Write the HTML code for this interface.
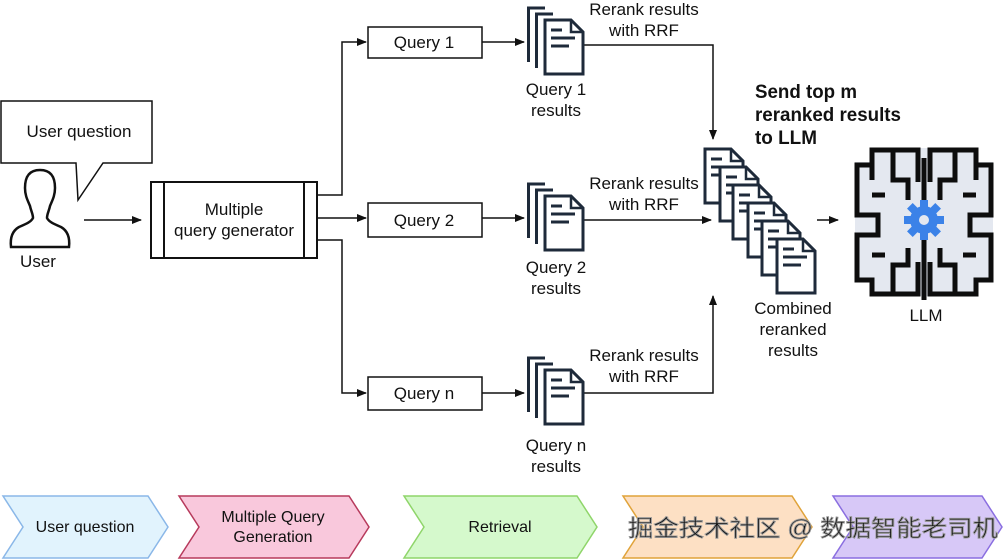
<!DOCTYPE html>
<html><head><meta charset="utf-8"><style>
html,body{margin:0;padding:0;background:#fff}
svg{display:block}
text{font-family:"Liberation Sans",Arial,sans-serif;fill:#111}
</style></head><body>
<svg width="1008" height="560" viewBox="0 0 1008 560" xmlns="http://www.w3.org/2000/svg">
<defs>
<marker id="ar" markerWidth="10" markerHeight="8" refX="9" refY="4" orient="auto" markerUnits="userSpaceOnUse">
<path d="M0,0 L10,4 L0,8 Z" fill="#111"/></marker>
<g id="page">
<path d="M0,0 H26 L38,12 V54 H0 Z" fill="#fff" stroke="#1e2a3a" stroke-width="3" stroke-linejoin="miter"/>
<path d="M26,0 V12 H38" fill="none" stroke="#1e2a3a" stroke-width="2.5"/>
<path d="M6,10 H17 M6,18 H30 M6,26 H24" stroke="#1e2a3a" stroke-width="3"/>
</g>
<g id="stack">
<path d="M1.5,54 V0 H18" fill="none" stroke="#1e2a3a" stroke-width="3"/>
<path d="M9.5,60 V6 H26" fill="none" stroke="#1e2a3a" stroke-width="3"/>
<use href="#page" x="18" y="12"/>
</g>
</defs>

<!-- bubble -->
<path d="M1,101 H152 V163 H103 L78,200 L76,163 H1 Z" fill="#fff" stroke="#111" stroke-width="1.5"/>
<text x="79" y="137" font-size="17" text-anchor="middle">User question</text>
<!-- person -->
<path d="M40,170 C29,170 25,177 25,188 C25,196 28,201 30,206 C31,211 33,214 33,218 C31,222 26,224 19,227 C12,231 10,238 11,247 H69 C70,238 68,231 61,227 C54,224 49,222 47,218 C47,214 49,211 50,206 C52,201 55,196 55,188 C55,177 51,170 40,170 Z" fill="#fff" stroke="#111" stroke-width="2.5"/>
<text x="38" y="267" font-size="17" text-anchor="middle">User</text>
<line x1="84" y1="220" x2="141" y2="220" stroke="#111" stroke-width="1.5" marker-end="url(#ar)"/>

<!-- generator -->
<rect x="151" y="182" width="166" height="76" fill="#fff" stroke="#111" stroke-width="2"/>
<line x1="164" y1="182" x2="164" y2="258" stroke="#111" stroke-width="2"/>
<line x1="304" y1="182" x2="304" y2="258" stroke="#111" stroke-width="2"/>
<text x="234" y="215" font-size="17" text-anchor="middle">Multiple</text>
<text x="234" y="236" font-size="17" text-anchor="middle">query generator</text>

<!-- branches -->
<g stroke="#111" stroke-width="1.5" fill="none">
<path d="M317,195 H342 V42 H366" marker-end="url(#ar)"/>
<path d="M317,218 H366" marker-end="url(#ar)"/>
<path d="M317,240 H342 V393 H366" marker-end="url(#ar)"/>
<path d="M482,42 H524" marker-end="url(#ar)"/>
<path d="M482,218 H524" marker-end="url(#ar)"/>
<path d="M482,393 H524" marker-end="url(#ar)"/>
<path d="M583,45 H713 V139" marker-end="url(#ar)"/>
<path d="M583,220 H711" marker-end="url(#ar)"/>
<path d="M583,393 H713 V296" marker-end="url(#ar)"/>
<path d="M817,220 H838" marker-end="url(#ar)"/>
</g>

<rect x="368" y="27" width="114" height="31" fill="#fff" stroke="#111" stroke-width="1.5"/>
<text x="424" y="48" font-size="17" text-anchor="middle">Query 1</text>
<rect x="368" y="203" width="114" height="34" fill="#fff" stroke="#111" stroke-width="1.5"/>
<text x="424" y="226" font-size="17" text-anchor="middle">Query 2</text>
<rect x="368" y="377" width="114" height="33" fill="#fff" stroke="#111" stroke-width="1.5"/>
<text x="424" y="399" font-size="17" text-anchor="middle">Query n</text>

<use href="#stack" x="527" y="8"/>
<use href="#stack" x="527" y="184"/>
<use href="#stack" x="527" y="358"/>

<g font-size="17" text-anchor="middle">
<text x="556" y="95">Query 1</text><text x="556" y="116">results</text>
<text x="556" y="273">Query 2</text><text x="556" y="294">results</text>
<text x="556" y="451">Query n</text><text x="556" y="472">results</text>
<text x="644" y="15">Rerank results</text><text x="644" y="36">with RRF</text>
<text x="644" y="189">Rerank results</text><text x="644" y="210">with RRF</text>
<text x="644" y="361">Rerank results</text><text x="644" y="382">with RRF</text>
<text x="793" y="314">Combined</text><text x="793" y="335">reranked</text><text x="793" y="356">results</text>
<text x="926" y="321">LLM</text>
</g>
<g font-size="19" font-weight="bold">
<text x="755" y="98" textLength="102" lengthAdjust="spacingAndGlyphs">Send top m</text>
<text x="755" y="121" textLength="146" lengthAdjust="spacingAndGlyphs">reranked results</text>
<text x="755" y="144" textLength="62" lengthAdjust="spacingAndGlyphs">to LLM</text>
</g>

<!-- combined docs -->
<use href="#page" x="705" y="149"/>
<use href="#page" x="720" y="167"/>
<use href="#page" x="733" y="185"/>
<use href="#page" x="748" y="203"/>
<use href="#page" x="762" y="221"/>
<use href="#page" x="777" y="239"/>

<!-- brain -->
<path d="M870,148 H978 V162 H993 V282 H978 V296 H870 V282 H855 V162 H870 Z" fill="#e4e8f0"/>
<g fill="none" stroke="#0d0d0d" stroke-width="5" stroke-linejoin="miter">
<path d="M872,180 V150 H918 V182 M893,150 V180 H908 V200 M872,165 H857 V215 H878 V235 H857 V280 H872 V294 H918 V262 M893,294 V265 H908 V248"/>
<path d="M976,180 V150 H930 V182 M955,150 V180 H940 V200 M976,165 H991 V215 H970 V235 H991 V280 H976 V294 H930 V262 M955,294 V265 H940 V248"/>
<path d="M872,195 H885 M976,195 H963 M872,255 H885 M976,255 H963"/>
<path d="M924,158 V300"/>
</g>
<g transform="translate(924,220)" fill="#3b82e8">
<circle r="14"/>
<rect x="-4" y="-20" width="8" height="40"/>
<rect x="-4" y="-20" width="8" height="40" transform="rotate(45)"/>
<rect x="-4" y="-20" width="8" height="40" transform="rotate(90)"/>
<rect x="-4" y="-20" width="8" height="40" transform="rotate(135)"/>
<circle r="5" fill="#e4e8f0"/>
</g>

<!-- chevrons -->
<path d="M3,496 H148 L168,527 L148,558 H3 L23,527 Z" fill="#e1f3fd" stroke="#8ab7e8" stroke-width="1.5"/>
<text x="85" y="532" font-size="16" text-anchor="middle">User question</text>
<path d="M179,496 H349 L369,527 L349,558 H179 L199,527 Z" fill="#f9c8dc" stroke="#b73a5c" stroke-width="1.5"/>
<text x="273" y="522" font-size="16" text-anchor="middle">Multiple Query</text>
<text x="273" y="542" font-size="16" text-anchor="middle">Generation</text>
<path d="M404,496 H577 L597,527 L577,558 H404 L424,527 Z" fill="#d5f9cc" stroke="#8fd56a" stroke-width="1.5"/>
<text x="500" y="532" font-size="16" text-anchor="middle">Retrieval</text>
<path d="M623,496 H792 L812,527 L792,558 H623 L643,527 Z" fill="#fde0c4" stroke="#e0a33a" stroke-width="1.5"/>
<path d="M833,496 H982 L1002,527 L982,558 H833 L853,527 Z" fill="#d7c8f7" stroke="#8a6ee0" stroke-width="1.5"/>
<text x="628" y="536" font-size="23" fill="#ffffff" stroke="#999" stroke-width="0.9" textLength="370" lengthAdjust="spacingAndGlyphs" style="font-family:'Liberation Sans','Noto Sans CJK SC',sans-serif">掘金技术社区 @ 数据智能老司机</text>
</svg>
</body></html>
